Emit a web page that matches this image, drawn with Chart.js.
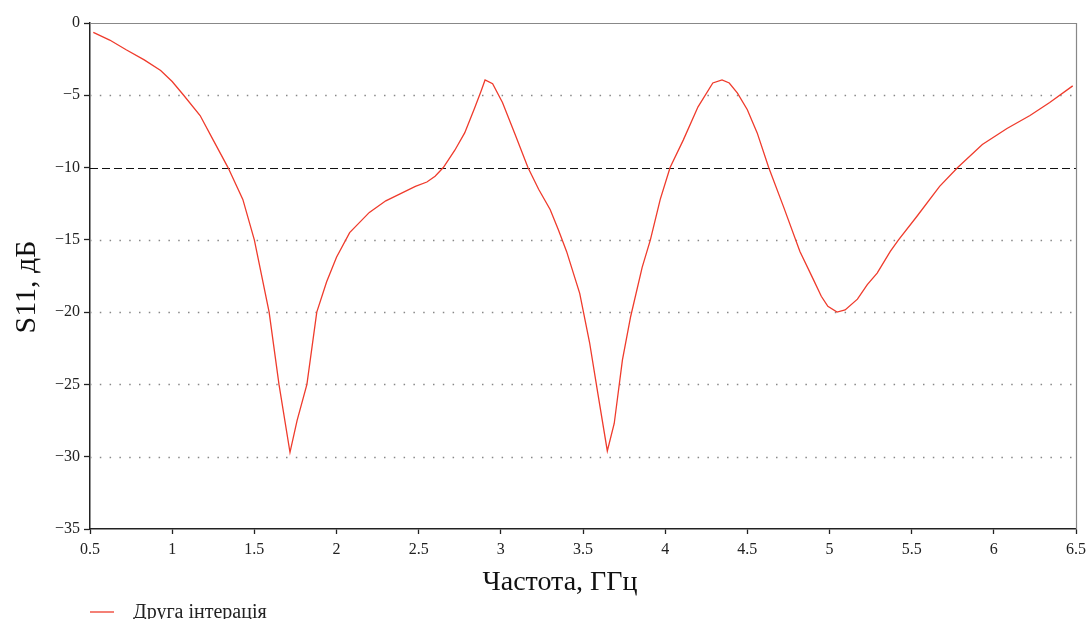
<!DOCTYPE html>
<html lang="uk">
<head>
    <meta charset="UTF-8" />
    <title>S11</title>
    <style>
        body {
            margin: 0;
            background: #fff;
        }
        #chart-container {
            width: 1089px;
            height: 619px;
        }
    </style>
    <script src="https://cdn.jsdelivr.net/npm/chart.js"></script>
</head>
<body>
<div id="chart-container">
    <canvas id="s11Chart" width="1089" height="619"></canvas>
</div>

<script>
  // frequency, GHz
  const freq = [
    0.52, 0.62, 0.72, 0.83, 0.93, 1.00, 1.07, 1.17, 1.25, 1.34,
    1.43, 1.50, 1.59, 1.65, 1.717, 1.76, 1.82, 1.88, 1.94, 2.00,
    2.08, 2.20, 2.30, 2.39, 2.48, 2.55, 2.60, 2.65, 2.72, 2.78,
    2.84, 2.88, 2.904, 2.95, 3.01, 3.09, 3.165, 3.23, 3.30, 3.35,
    3.40, 3.48, 3.54, 3.59, 3.648, 3.69, 3.74, 3.79, 3.86, 3.91,
    3.97, 4.03, 4.11, 4.20, 4.29, 4.346, 4.39, 4.44, 4.50, 4.56,
    4.63, 4.72, 4.82, 4.90, 4.95, 4.99, 5.046, 5.095, 5.17, 5.23,
    5.29, 5.37, 5.42, 5.53, 5.67, 5.78, 5.93, 6.08, 6.22, 6.34,
    6.48
  ];
  // S11, dB
  const s11 = [
    -0.65, -1.18, -1.85, -2.55, -3.28, -4.05, -5.0, -6.4, -8.1, -10.0,
    -12.2, -15.0, -20.0, -25.0, -29.7, -27.5, -25.0, -20.0, -17.9, -16.2,
    -14.5, -13.1, -12.3, -11.8, -11.3, -11.0, -10.6, -10.0, -8.8, -7.6,
    -5.9, -4.7, -3.94, -4.2, -5.5, -7.8, -10.0, -11.5, -12.9, -14.3,
    -15.8, -18.7, -22.1, -25.6, -29.6, -27.7, -23.3, -20.3, -16.9, -15.0,
    -12.2, -10.0, -8.1, -5.8, -4.15, -3.94, -4.15, -4.85, -6.0, -7.6,
    -10.0, -12.7, -15.8, -17.7, -18.9, -19.6, -20.0, -19.85, -19.1, -18.1,
    -17.3, -15.8, -15.0, -13.4, -11.3, -10.0, -8.4, -7.3, -6.4, -5.5,
    -4.35
  ];

  const seriesName = "Друга інтерація";
  const xTitle = "Частота, ГГц";
  const yTitle = "S11, дБ";
  const threshold = -10;

  const xTicks = [0.5, 1, 1.5, 2, 2.5, 3, 3.5, 4, 4.5, 5, 5.5, 6, 6.5];
  const xTickLabels = ["0.5", "1", "1.5", "2", "2.5", "3", "3.5", "4", "4.5", "5", "5.5", "6", "6.5"];
  const yTicks = [0, -5, -10, -15, -20, -25, -30, -35];
  const yTickLabels = ["0", "\u22125", "\u221210", "\u221215", "\u221220", "\u221225", "\u221230", "\u221235"];

  const serif = "'Liberation Serif', 'DejaVu Serif', serif";
  const lineColor = "#ef3b2c";

  // dotted / dashed horizontal grid lines, grey frame, titles and legend
  const decorPlugin = {
    id: "decor",
    beforeDatasetsDraw(chart) {
      const { ctx, chartArea: a, scales } = chart;
      const y = scales.y;
      ctx.save();
      yTicks.forEach((v) => {
        if (v === -35) return;
        const py = Math.round(y.getPixelForValue(v)) + 0.5;
        ctx.beginPath();
        if (v === threshold) {
          ctx.setLineDash([8, 4]);
          ctx.strokeStyle = "#111";
          ctx.lineWidth = 1.2;
        } else if (v === 0) {
          ctx.setLineDash([]);
          ctx.strokeStyle = "#888";
          ctx.lineWidth = 1.2;
        } else {
          ctx.setLineDash([1.5, 8.3]);
          ctx.strokeStyle = "#888";
          ctx.lineWidth = 1.5;
        }
        ctx.moveTo(a.left, py);
        ctx.lineTo(a.right, py);
        ctx.stroke();
      });
      ctx.setLineDash([]);
      ctx.strokeStyle = "#888";
      ctx.lineWidth = 1.2;
      ctx.beginPath();
      ctx.moveTo(a.right + 0.5, a.top);
      ctx.lineTo(a.right + 0.5, a.bottom);
      ctx.stroke();
      ctx.restore();
    },
    afterDraw(chart) {
      const { ctx, chartArea: a } = chart;
      ctx.save();
      ctx.fillStyle = "#111";
      ctx.textAlign = "center";
      ctx.textBaseline = "middle";
      ctx.font = "28px " + serif;
      ctx.fillText(xTitle, 560, 583);
      ctx.save();
      ctx.translate(27, 287);
      ctx.rotate(-Math.PI / 2);
      ctx.font = "30px " + serif;
      ctx.fillText(yTitle, 0, 0);
      ctx.restore();

      const ly = 612;
      ctx.strokeStyle = lineColor;
      ctx.lineWidth = 1.3;
      ctx.beginPath();
      ctx.moveTo(a.left, ly);
      ctx.lineTo(a.left + 24, ly);
      ctx.stroke();
      ctx.fillStyle = "#222";
      ctx.textAlign = "left";
      ctx.font = "20px " + serif;
      ctx.fillText(chart.data.datasets[0].label, a.left + 43, ly + 1);
      ctx.restore();
    },
  };

  const ctx = document.getElementById("s11Chart").getContext("2d");
  new Chart(ctx, {
    type: "line",
    data: {
      datasets: [
        {
          label: seriesName,
          data: freq.map((f, i) => ({ x: f, y: s11[i] })),
          borderColor: lineColor,
          borderWidth: 1.3,
          pointRadius: 0,
          tension: 0,
          fill: false,
        },
      ],
    },
    options: {
      responsive: false,
      animation: false,
      devicePixelRatio: 1,
      layout: {
        padding: { top: 23, right: 13, left: 0, bottom: 0 },
      },
      scales: {
        x: {
          type: "linear",
          min: 0.5,
          max: 6.5,
          afterBuildTicks: (scale) => {
            scale.ticks = xTicks.map((v) => ({ value: v }));
          },
          afterFit: (scale) => {
            scale.height = 90;
            scale.paddingRight = 0;
            scale.paddingLeft = 0;
          },
          ticks: {
            color: "#222",
            padding: 6,
            maxRotation: 0,
            font: { family: serif, size: 16 },
            callback: (value) => xTickLabels[xTicks.indexOf(value)],
          },
          grid: {
            display: true,
            drawOnChartArea: false,
            drawTicks: true,
            tickLength: 5,
            tickColor: "#222",
            tickWidth: 1.3,
          },
          border: { display: true, color: "#222", width: 1.5 },
          title: { display: false, text: xTitle },
        },
        y: {
          type: "linear",
          min: -35,
          max: 0,
          afterBuildTicks: (scale) => {
            scale.ticks = yTicks.map((v) => ({ value: v }));
          },
          afterFit: (scale) => {
            scale.width = 90;
          },
          ticks: {
            color: "#222",
            padding: 4,
            font: { family: serif, size: 16 },
            callback: (value) => yTickLabels[yTicks.indexOf(value)],
          },
          grid: {
            display: true,
            drawOnChartArea: false,
            drawTicks: true,
            tickLength: 6,
            tickColor: "#222",
            tickWidth: 1.3,
          },
          border: { display: true, color: "#222", width: 1.5 },
          title: { display: false, text: yTitle },
        },
      },
      plugins: {
        legend: { display: false },
        tooltip: { enabled: false },
      },
    },
    plugins: [decorPlugin],
  });
</script>
</body>
</html>
